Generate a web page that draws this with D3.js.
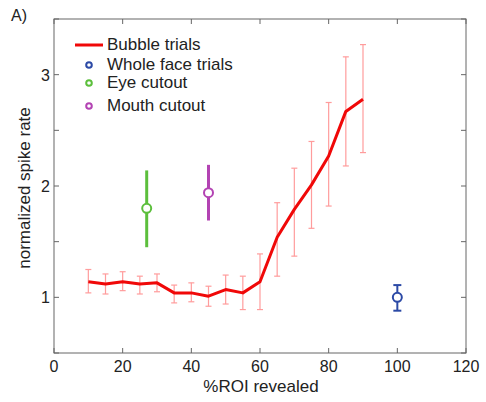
<!DOCTYPE html>
<html>
<head>
<meta charset="utf-8">
<script src="https://cdn.jsdelivr.net/npm/d3@7"></script>
<style>
  body { margin: 0; background: #fff; }
  svg { font-family: "Liberation Sans", Arial, sans-serif; }
</style>
</head>
<body>
<svg id="chart" width="486" height="402"></svg>
<script>
// bubble trials: %ROI revealed, mean, error bar top / bottom
const bubbleX = [10, 15, 20, 25, 30, 35, 40, 45, 50, 55, 60, 65, 70, 75, 80, 85, 90];
const bubbleY = [1.14, 1.12, 1.14, 1.12, 1.13, 1.04, 1.04, 1.01, 1.07, 1.04, 1.14, 1.54, 1.79, 2.01, 2.27, 2.67, 2.78];
const bubbleHi = [1.25, 1.21, 1.23, 1.19, 1.21, 1.11, 1.13, 1.10, 1.20, 1.19, 1.39, 1.85, 2.16, 2.40, 2.75, 3.16, 3.27];
const bubbleLo = [1.04, 1.03, 1.06, 1.03, 1.05, 0.95, 0.96, 0.92, 0.94, 0.89, 0.89, 1.19, 1.37, 1.62, 1.82, 2.18, 2.30];

const singleNames = ["Whole face trials", "Eye cutout", "Mouth cutout"];
const singleX = [100, 27, 45];
const singleY = [1.00, 1.80, 1.94];
const singleHi = [1.11, 2.14, 2.19];
const singleLo = [0.88, 1.45, 1.69];
const singleColors = ["#2c4aa6", "#5cbf3c", "#b343b3"];

const xTicks = [0, 20, 40, 60, 80, 100, 120];
const yTicks = [0.5, 1, 1.5, 2, 2.5, 3, 3.5];
const yLabels = [1, 2, 3];

const svg = d3.select("#chart");
const mLeft = 54, mRight = 466, mTop = 19, mBottom = 353;

const x = d3.scaleLinear().domain([0, 120]).range([mLeft, mRight]);
const y = d3.scaleLinear().domain([0.5, 3.5]).range([mBottom, mTop]);

const axisColor = "#666";
const textColor = "#222";

// frame
svg.append("rect")
    .attr("x", mLeft).attr("y", mTop)
    .attr("width", mRight - mLeft).attr("height", mBottom - mTop)
    .attr("fill", "none").attr("stroke", axisColor).attr("stroke-width", 1);

// inward ticks on all four sides
const tl = 5;
const g = svg.append("g").attr("stroke", axisColor).attr("stroke-width", 1);
xTicks.forEach(t => {
    g.append("line").attr("x1", x(t)).attr("x2", x(t)).attr("y1", mBottom).attr("y2", mBottom - tl);
    g.append("line").attr("x1", x(t)).attr("x2", x(t)).attr("y1", mTop).attr("y2", mTop + tl);
});
yTicks.forEach(t => {
    g.append("line").attr("x1", mLeft).attr("x2", mLeft + tl).attr("y1", y(t)).attr("y2", y(t));
    g.append("line").attr("x1", mRight).attr("x2", mRight - tl).attr("y1", y(t)).attr("y2", y(t));
});

// tick labels
svg.append("g").selectAll("text")
    .data(xTicks).enter().append("text")
    .attr("x", d => x(d)).attr("y", mBottom + 19)
    .attr("text-anchor", "middle")
    .attr("font-size", "16px").attr("fill", textColor)
    .text(d => d);

svg.append("g").selectAll("text")
    .data(yLabels).enter().append("text")
    .attr("x", mLeft - 4).attr("y", d => y(d) + 6)
    .attr("text-anchor", "end")
    .attr("font-size", "16px").attr("fill", textColor)
    .text(d => d);

// axis titles
svg.append("text")
    .attr("x", 261).attr("y", 392)
    .attr("text-anchor", "middle")
    .attr("font-size", "17px").attr("fill", textColor)
    .text("%ROI revealed");

svg.append("text")
    .attr("transform", "translate(30,188) rotate(-90)")
    .attr("text-anchor", "middle")
    .attr("font-size", "17px").attr("fill", textColor)
    .text("normalized spike rate");

svg.append("text")
    .attr("x", 11).attr("y", 21)
    .attr("font-size", "16px").attr("fill", textColor)
    .text("A)");

// bubble error bars
const bubble = bubbleX.map((v, i) => ({ x: v, y: bubbleY[i], hi: bubbleHi[i], lo: bubbleLo[i] }));
const eb = svg.append("g").attr("stroke", "#ff9c9c").attr("stroke-width", 1.2);
bubble.forEach(d => {
    eb.append("line").attr("x1", x(d.x)).attr("x2", x(d.x)).attr("y1", y(d.hi)).attr("y2", y(d.lo));
    eb.append("line").attr("x1", x(d.x) - 3).attr("x2", x(d.x) + 3).attr("y1", y(d.hi)).attr("y2", y(d.hi));
    eb.append("line").attr("x1", x(d.x) - 3).attr("x2", x(d.x) + 3).attr("y1", y(d.lo)).attr("y2", y(d.lo));
});

// bubble line
svg.append("path")
    .datum(bubble)
    .attr("fill", "none")
    .attr("stroke", "#f00808")
    .attr("stroke-width", 3)
    .attr("stroke-linejoin", "round")
    .attr("d", d3.line().x(d => x(d.x)).y(d => y(d.y)));

// single conditions
singleX.forEach((v, i) => {
    const c = singleColors[i];
    const sg = svg.append("g").attr("stroke", c);
    sg.append("line")
        .attr("x1", x(v)).attr("x2", x(v))
        .attr("y1", y(singleHi[i])).attr("y2", y(singleLo[i]))
        .attr("stroke-width", i === 0 ? 2 : 3);
    if (i === 0) {
        [singleHi[i], singleLo[i]].forEach(e => {
            sg.append("line").attr("x1", x(v) - 4).attr("x2", x(v) + 4)
                .attr("y1", y(e)).attr("y2", y(e)).attr("stroke-width", 2);
        });
    }
    sg.append("circle")
        .attr("cx", x(v)).attr("cy", y(singleY[i])).attr("r", 4.5)
        .attr("fill", "#fff").attr("stroke-width", 2);
});

// legend
const lg = svg.append("g").attr("font-size", "17px").attr("fill", textColor);
lg.append("line").attr("x1", 75).attr("x2", 103).attr("y1", 45).attr("y2", 45)
    .attr("stroke", "#f00808").attr("stroke-width", 3);
lg.append("text").attr("x", 107).attr("y", 50).text("Bubble trials");
const legY = [65, 83, 106];
singleNames.forEach((n, i) => {
    lg.append("circle").attr("cx", 89).attr("cy", legY[i]).attr("r", 2.8)
        .attr("fill", "#fff").attr("stroke", singleColors[i]).attr("stroke-width", 2);
    lg.append("text").attr("x", 107).attr("y", legY[i] + 5).text(n);
});
</script>
</body>
</html>
